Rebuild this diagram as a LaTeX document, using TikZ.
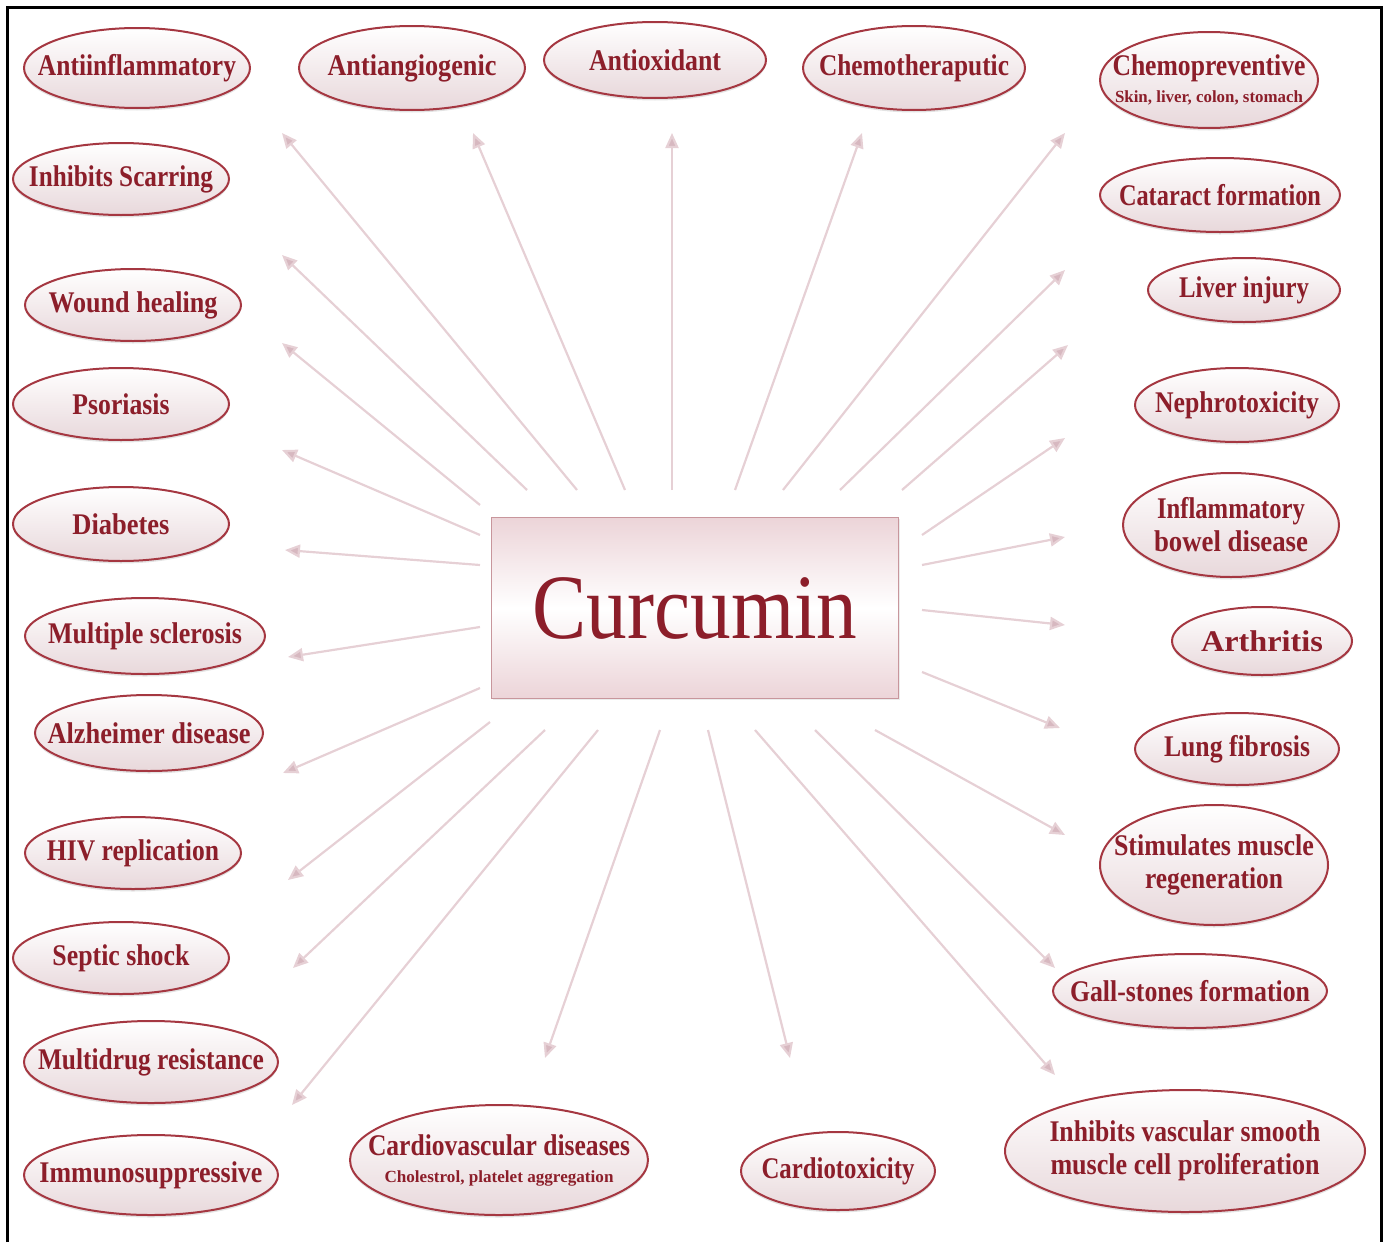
\documentclass[tikz,border=0pt]{standalone}
\usepackage{fontspec}
\usepackage{graphicx}
\setmainfont{Liberation Serif}
\usetikzlibrary{shapes.geometric,arrows.meta,shadows}
\definecolor{ellred}{RGB}{165,55,65}
\definecolor{txtred}{RGB}{140,30,42}
\definecolor{ellfill}{RGB}{232,216,219}
\definecolor{raycol}{RGB}{230,208,213}
\definecolor{headcol}{RGB}{215,184,192}
\definecolor{boxpink}{RGB}{236,212,216}
\definecolor{boxline}{RGB}{200,150,156}
\newcommand{\fitw}[2]{\makebox[0pt]{\resizebox{#1pt}{\height}{#2}}}
\newcommand{\subfont}{\fontsize{17}{19}\selectfont}
\tikzset{
  ell/.style={ellipse, draw=ellred, line width=2pt, top color=white, bottom color=ellfill,
    inner sep=0pt, text=txtred, align=center,
    font=\bfseries\fontsize{30}{35}\selectfont,
    drop shadow={opacity=0.22, shadow xshift=0pt, shadow yshift=-2.5pt}},
  ray/.style={draw=raycol, line width=2.2pt, -{Triangle[length=15pt,width=13pt,fill=headcol]}},
  framel/.style={line width=3pt, draw=black}
}
\begin{document}
\begin{tikzpicture}[x=1pt,y=-1pt]
\useasboundingbox (0,0) rectangle (1386,1242);
\draw[framel] (7.5,1242) -- (7.5,7.5) -- (1381,7.5) -- (1381,1242);

% central box
\node[rectangle, draw=boxline, line width=1.5pt, minimum width=407pt, minimum height=181pt,
  top color=boxpink, bottom color=boxpink, middle color=white, text=txtred,
  drop shadow={opacity=0.15, shadow xshift=1pt, shadow yshift=-1.5pt},
  font=\fontsize{92}{100}\selectfont] (cur) at (695,608) {\fitw{325}{Curcumin}};

% left column
\node[ell, minimum width=226pt, minimum height=80pt] (e1) at (137,68) {\fitw{198}{Antiinflammatory}};
\node[ell, minimum width=216pt, minimum height=72pt] (e2) at (121,179) {\fitw{184}{Inhibits Scarring}};
\node[ell, minimum width=216pt, minimum height=72pt] (e3) at (133,305) {\fitw{169}{Wound healing}};
\node[ell, minimum width=216pt, minimum height=72pt] (e4) at (121,404) {\fitw{97}{Psoriasis}};
\node[ell, minimum width=216pt, minimum height=74pt] (e5) at (121,524) {\fitw{97}{Diabetes}};
\node[ell, minimum width=240pt, minimum height=76pt] (e6) at (145,636) {\fitw{194}{Multiple sclerosis}};
\node[ell, minimum width=228pt, minimum height=76pt] (e7) at (149,733) {\fitw{203}{Alzheimer disease}};
\node[ell, minimum width=216pt, minimum height=72pt] (e8) at (133,853) {\fitw{172}{HIV replication}};
\node[ell, minimum width=216pt, minimum height=72pt] (e9) at (121,958) {\fitw{137}{Septic shock}};
\node[ell, minimum width=254pt, minimum height=82pt] (e10) at (151,1062) {\fitw{226}{Multidrug resistance}};
\node[ell, minimum width=254pt, minimum height=80pt] (e11) at (151,1175) {\fitw{223}{Immunosuppressive}};

% top row
\node[ell, minimum width=226pt, minimum height=84pt] (t1) at (412,68) {\fitw{169}{Antiangiogenic}};
\node[ell, minimum width=222pt, minimum height=76pt] (t2) at (655,60) {\fitw{132}{Antioxidant}};
\node[ell, minimum width=222pt, minimum height=84pt] (t3) at (914,68) {\fitw{190}{Chemotheraputic}};
\node[ell, minimum width=218pt, minimum height=96pt] (t4) at (1209,80) {\fitw{193}{Chemopreventive}\\[-8pt]{\subfont\fitw{188}{Skin, liver, colon, stomach}}};

% right column
\node[ell, minimum width=240pt, minimum height=74pt] (r1) at (1220,195) {\fitw{202}{Cataract formation}};
\node[ell, minimum width=192pt, minimum height=64pt] (r2) at (1244,290) {\fitw{130}{Liver injury}};
\node[ell, minimum width=204pt, minimum height=74pt] (r3) at (1237,405) {\fitw{164}{Nephrotoxicity}};
\node[ell, minimum width=216pt, minimum height=104pt] (r4) at (1231,525) {\fitw{148}{Inflammatory}\\[-2pt]\fitw{154}{bowel disease}};
\node[ell, minimum width=180pt, minimum height=68pt] (r5) at (1262,641) {\fitw{122}{Arthritis}};
\node[ell, minimum width=204pt, minimum height=72pt] (r6) at (1237,749) {\fitw{146}{Lung fibrosis}};
\node[ell, minimum width=228pt, minimum height=120pt] (r7) at (1214,865) {\fitw{200}{Stimulates muscle}\\[-2pt]\fitw{138}{regeneration}};
\node[ell, minimum width=274pt, minimum height=74pt] (r8) at (1190,991) {\fitw{240}{Gall-stones formation}};
\node[ell, minimum width=360pt, minimum height=122pt] (r9) at (1185,1151) {\fitw{271}{Inhibits vascular smooth}\\[-2pt]\fitw{269}{muscle cell proliferation}};

% bottom
\node[ell, minimum width=298pt, minimum height=110pt] (b1) at (499,1160) {\fitw{262}{Cardiovascular diseases}\\[-8pt]{\subfont\fitw{229}{Cholestrol, platelet aggregation}}};
\node[ell, minimum width=194pt, minimum height=78pt] (b2) at (838,1171) {\fitw{153}{Cardiotoxicity}};

% ray tails and tips
\foreach \n/\sx/\sy/\tx/\ty in {
  a1/577/490/282/133, a2/527/490/282/255, a3/480/505/282/343, a4/480/535/282/450,
  a5/480/565/285/550, a6/480/627/288/657, a7/480/688/283/773, a8/490/722/288/880,
  a9/545/730/293/968, a10/598/730/292/1105, a11/660/730/545/1058, a12/708/730/790/1058,
  a13/755/730/1055/1075, a14/815/730/1055/968, a15/875/730/1065/835, a16/922/672/1060/728,
  a17/922/610/1065/625, a18/922/565/1065/537, a19/922/535/1065/438, a20/902/490/1068/345,
  a21/840/490/1065/270, a22/783/490/1065/133, a23/735/490/862/133, a24/672/490/672/133,
  a25/625/490/473/133}{
  \coordinate (\n s) at (\sx,\sy);
  \coordinate (\n t) at (\tx,\ty);
  \draw[ray] (\n s) -- (\n t);
}
\end{tikzpicture}
\end{document}
